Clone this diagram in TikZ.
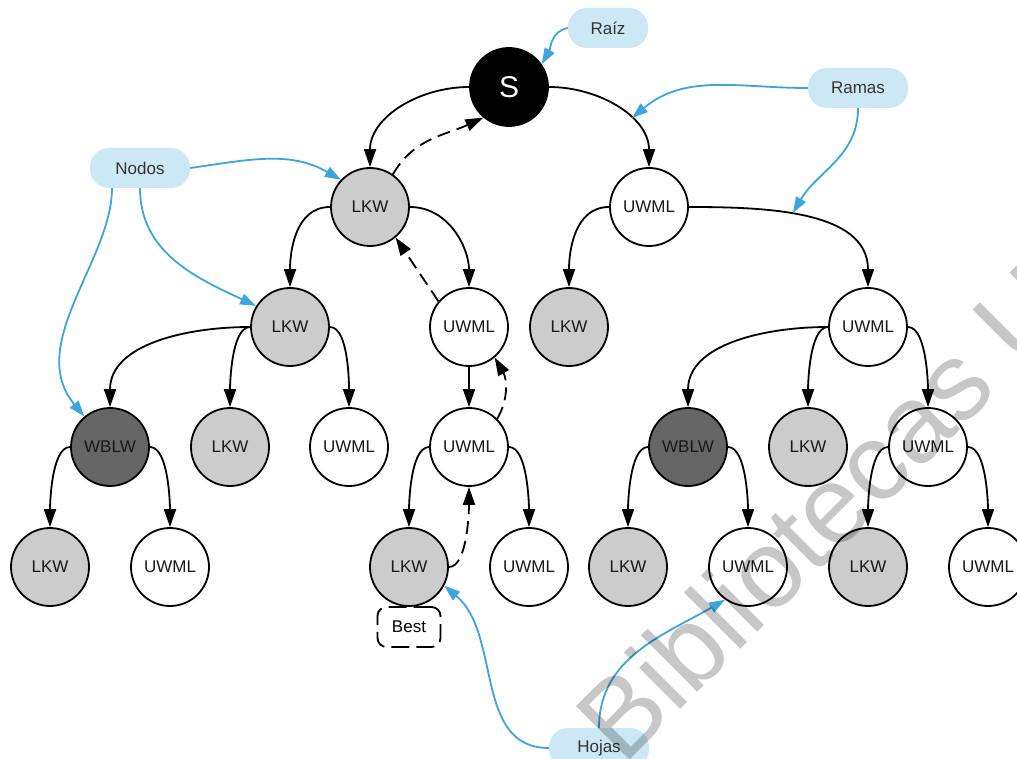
\documentclass[tikz,border=0pt]{standalone}
\usepackage{fontspec}
\setmainfont{Liberation Sans}
\usetikzlibrary{arrows.meta}
\definecolor{lkw}{HTML}{CCCCCC}
\definecolor{wblw}{HTML}{666666}
\definecolor{lblue}{HTML}{CCE8F5}
\definecolor{ablue}{HTML}{3BA5DC}
\definecolor{ltext}{HTML}{333333}
\begin{document}
\begin{tikzpicture}[x=1pt,y=1pt,
  circ/.style={circle, draw=black, line width=1.8pt, minimum size=78pt, inner sep=0pt,
    font=\fontsize{17}{20}\selectfont, text=black!90},
  lk/.style={circ, fill=lkw},
  uw/.style={circ, fill=white},
  wb/.style={circ, fill=wblw},
  lbl/.style={fill=lblue, rounded corners=19pt, minimum width=100pt, minimum height=40pt,
    inner sep=0pt, font=\fontsize{17}{20}\selectfont, text=ltext},
  edge/.style={line width=1.8pt, -{Triangle[length=18pt,width=12pt]}},
  elbow/.style={edge, looseness=0.6},
  back/.style={edge, dash pattern=on 13pt off 7pt},
  note/.style={line width=1.8pt, draw=ablue, -{Triangle[length=16pt,width=11pt,fill=ablue]}},
  bestbox/.style={draw=black, line width=1.8pt, rounded corners=9pt, dash pattern=on 18pt off 7pt,
    minimum width=63pt, minimum height=40pt, inner sep=0pt, font=\fontsize{17}{20}\selectfont}
]
\useasboundingbox (0,0) rectangle (1017,-759);
\clip (0,0) rectangle (1017,-759);
\fill[white] (0,0) rectangle (1017,-759);

% nodes
\node[circ, fill=black, text=white, font=\fontsize{30}{34}\selectfont] (S) at (509,-87) {S};
\node[lk] (n1) at (370,-207) {LKW};
\node[uw] (n2) at (649,-207) {UWML};
\node[lk] (n3) at (290,-327) {LKW};
\node[uw] (n4) at (469,-327) {UWML};
\node[lk] (n5) at (569,-327) {LKW};
\node[uw] (n6) at (868,-327) {UWML};
\node[wb] (n7) at (110,-447) {WBLW};
\node[lk] (n8) at (230,-447) {LKW};
\node[uw] (n9) at (349,-447) {UWML};
\node[uw] (n10) at (469,-447) {UWML};
\node[wb] (n11) at (688,-447) {WBLW};
\node[lk] (n12) at (808,-447) {LKW};
\node[uw] (n13) at (928,-447) {UWML};
\node[lk] (b1) at (50,-567) {LKW};
\node[uw] (b2) at (170,-567) {UWML};
\node[lk] (b3) at (409,-567) {LKW};
\node[uw] (b4) at (529,-567) {UWML};
\node[lk] (b5) at (628,-567) {LKW};
\node[uw] (b6) at (748,-567) {UWML};
\node[lk] (b7) at (868,-567) {LKW};
\node[uw] (b8) at (988,-567) {UWML};

\node[bestbox] (best) at (409,-627) {Best};

% labels
\node[lbl, minimum width=80pt] (raiz) at (608,-28) {Raíz};
\node[lbl] (ramas) at (858,-88) {Ramas};
\node[lbl] (nodos) at (140,-168) {Nodos};
\node[lbl] (hojas) at (599,-748) {Hojas};

% tree edges
\draw[edge] (S.west) to[out=180,in=90] (n1.north);
\draw[edge] (S.east) to[out=0,in=90] (n2.north);
\draw[edge] (n1.west) to[out=180,in=90] (n3.north);
\draw[edge] (n1.east) to[out=0,in=90] (n4.north);
\draw[edge] (n2.west) to[out=180,in=90] (n5.north);
\draw[edge] (n2.east) to[out=0,in=90] (n6.north);
\draw[edge] (n3.west) to[out=180,in=90] (n7.north);
\draw[elbow] (n3.west) to[out=180,in=90] (n8.north);
\draw[elbow] (n3.east) to[out=0,in=90] (n9.north);
\draw[edge] (n4.south) -- (n10.north);
\draw[edge] (n6.west) to[out=180,in=90] (n11.north);
\draw[elbow] (n6.west) to[out=180,in=90] (n12.north);
\draw[elbow] (n6.east) to[out=0,in=90] (n13.north);
\draw[elbow] (n7.west) to[out=180,in=90] (b1.north);
\draw[elbow] (n7.east) to[out=0,in=90] (b2.north);
\draw[elbow] (n10.west) to[out=180,in=90] (b3.north);
\draw[elbow] (n10.east) to[out=0,in=90] (b4.north);
\draw[elbow] (n11.west) to[out=180,in=90] (b5.north);
\draw[elbow] (n11.east) to[out=0,in=90] (b6.north);
\draw[elbow] (n13.west) to[out=180,in=90] (b7.north);
\draw[elbow] (n13.east) to[out=0,in=90] (b8.north);

% backtracking (dashed)
\draw[back] (n1.55) to[out=60,in=205] (S.230);
\draw[back] (n4.140) -- (n1.-50);
\draw[back] (n10.45) to[out=60,in=-60] (n4.-50);
\draw[back] (b3.east) to[out=0,in=-90,looseness=0.6] (n10.south);

% annotation arrows
\coordinate (rb1) at (632,-118);
\coordinate (rb2) at (793,-213);
\draw[note] (raiz.west) to[out=190,in=60] (S.35);
\draw[note] (ramas.west) to[out=180,in=40] (rb1);
\draw[note] (ramas.south) to[out=-90,in=60] (rb2);
\draw[note] (nodos.east) to[out=8,in=150] (n1.137);
\draw[note] (nodos.south) to[out=-90,in=155] (n3.148);
\draw[note] ([xshift=-28pt]nodos.south) .. controls (112,-260) and (25,-345) .. (n7.130);
\draw[note] (hojas.west) to[out=180,in=-40] (b3.-28);
\draw[note] (hojas.north) to[out=90,in=-150] (b6.235);

% watermark
\node[rotate=45, anchor=base west, inner sep=0pt, font=\fontsize{110}{110}\selectfont,
  text=black, text opacity=0.22] (wm) at (623,-767) {Bibliotecas U};
\end{tikzpicture}
\end{document}
